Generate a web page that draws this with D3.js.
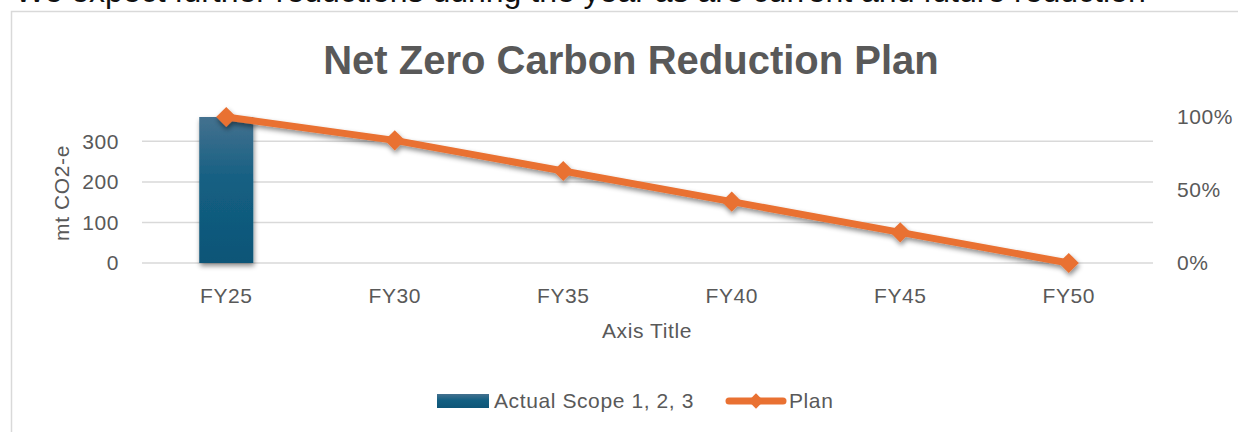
<!doctype html>
<html>
<head>
<title>Net Zero Carbon Reduction Plan</title>
<style type="text/css">
body { margin: 0; background: #fff; }
svg { display: block; font-family: "Liberation Sans", Arial, sans-serif; }
</style>
<script src="https://cdnjs.cloudflare.com/ajax/libs/d3/7.8.5/d3.min.js"></script>
</head>
<body>
<script type="text/javascript">
var width = 1238, height = 432;

// data
var years = ["FY25", "FY30", "FY35", "FY40", "FY45", "FY50"];
var actual = [360, null, null, null, null, null];   // mt CO2-e
var plan = [1.00, 0.84, 0.63, 0.42, 0.21, 0.00];     // share of baseline
var leftTicks = [0, 100, 200, 300];
var rightTicks = [0, 0.5, 1];

var orange = "#E97132";
var grey = "#595959";
var font = "Liberation Sans, Arial, sans-serif";
var fs = 21, ls = 0.6;   // label size and letter spacing

var svg = d3.select("body").append("svg")
	.attr("width", width)
	.attr("height", height);

var defs = svg.append("defs");
var grad = defs.append("linearGradient").attr("id", "barGrad")
	.attr("x1", 0).attr("y1", 0).attr("x2", 0).attr("y2", 1);
grad.append("stop").attr("offset", "0%").attr("stop-color", "#44718f");
grad.append("stop").attr("offset", "45%").attr("stop-color", "#135f82");
grad.append("stop").attr("offset", "100%").attr("stop-color", "#0e5577");

var shadow = defs.append("filter").attr("id", "shadow")
	.attr("x", "-20%").attr("y", "-20%").attr("width", "140%").attr("height", "160%");
shadow.append("feDropShadow")
	.attr("dx", 1).attr("dy", 3).attr("stdDeviation", 2.5)
	.attr("flood-color", "#000").attr("flood-opacity", 0.45);

// the cut-off paragraph line above the chart
svg.append("text")
	.attr("x", 15).attr("y", 2)
	.attr("font-size", 32)
	.attr("fill", "#111")
	.text("We expect further reductions during the year as are current and future reduction");

// chart frame (right edge runs off the page)
svg.append("path")
	.attr("d", "M1250,11.5 H11.5 V440")
	.attr("fill", "none")
	.attr("stroke", "#d9d9d9")
	.attr("stroke-width", 1.5);

svg.append("text")
	.attr("x", 631).attr("y", 74)
	.attr("text-anchor", "middle")
	.attr("font-size", 40)
	.attr("font-weight", "bold")
	.attr("fill", grey)
	.text("Net Zero Carbon Reduction Plan");

var x = d3.scaleBand().domain(years).range([142, 1153]);
var yL = d3.scaleLinear().domain([0, 360]).range([263, 117]);
var yR = d3.scaleLinear().domain([0, 1]).range([263, 117]);

// gridlines
svg.append("g").selectAll("line").data(leftTicks).enter().append("line")
	.attr("x1", 142).attr("x2", 1153)
	.attr("y1", function(d) { return yL(d); })
	.attr("y2", function(d) { return yL(d); })
	.attr("stroke", "#d9d9d9")
	.attr("stroke-width", 1.5);

// axes
var axisL = svg.append("g").attr("transform", "translate(142,0)")
	.call(d3.axisLeft(yL).tickValues(leftTicks).tickSize(0).tickPadding(23));
var axisR = svg.append("g").attr("transform", "translate(1153,0)")
	.call(d3.axisRight(yR).tickValues(rightTicks).tickSize(0).tickPadding(24).tickFormat(d3.format(".0%")));
var axisB = svg.append("g").attr("transform", "translate(0,263)")
	.call(d3.axisBottom(x).tickSize(0).tickPadding(25));
[axisL, axisR, axisB].forEach(function(a) {
	a.select(".domain").remove();
	a.selectAll("text").attr("font-size", fs).attr("fill", grey)
		.attr("letter-spacing", ls)
		.attr("font-family", font);
});

svg.append("text")
	.attr("transform", "translate(69,193) rotate(-90)")
	.attr("text-anchor", "middle")
	.attr("font-size", fs).attr("letter-spacing", ls).attr("fill", grey)
	.text("mt CO2-e");

svg.append("text")
	.attr("x", 647).attr("y", 338)
	.attr("text-anchor", "middle")
	.attr("font-size", fs).attr("letter-spacing", ls).attr("fill", grey)
	.text("Axis Title");

// bars
var bw = 54;
svg.append("g").selectAll("rect")
	.data(years.map(function(y, i) { return {year: y, v: actual[i]}; })
		.filter(function(d) { return d.v != null; }))
	.enter().append("rect")
	.attr("x", function(d) { return x(d.year) + x.bandwidth() / 2 - bw / 2; })
	.attr("width", bw)
	.attr("y", function(d) { return yL(d.v); })
	.attr("height", function(d) { return yL(0) - yL(d.v); })
	.attr("fill", "url(#barGrad)")
	.attr("filter", "url(#shadow)");

// plan line
var cx = function(d, i) { return x(years[i]) + x.bandwidth() / 2; };
var line = d3.line().x(cx).y(function(d) { return yR(d); });
var planG = svg.append("g").attr("filter", "url(#shadow)");
planG.append("path")
	.datum(plan)
	.attr("d", line)
	.attr("fill", "none")
	.attr("stroke", orange)
	.attr("stroke-width", 7)
	.attr("stroke-linejoin", "round");
var diamond = d3.symbol().type(d3.symbolDiamond2).size(260);
planG.selectAll(".mk").data(plan).enter().append("path")
	.attr("class", "mk")
	.attr("d", diamond)
	.attr("transform", function(d, i) { return "translate(" + cx(d, i) + "," + yR(d) + ")"; })
	.attr("fill", orange);

// legend
var leg = svg.append("g");
leg.append("rect")
	.attr("x", 437).attr("y", 394).attr("width", 52).attr("height", 14)
	.attr("fill", "url(#barGrad)");
leg.append("text")
	.attr("x", 494).attr("y", 408)
	.attr("font-size", fs).attr("letter-spacing", ls).attr("fill", grey)
	.text("Actual Scope 1, 2, 3");
leg.append("line")
	.attr("x1", 729).attr("x2", 783).attr("y1", 401).attr("y2", 401)
	.attr("stroke", orange).attr("stroke-width", 7).attr("stroke-linecap", "round");
leg.append("path")
	.attr("d", d3.symbol().type(d3.symbolDiamond2).size(150))
	.attr("transform", "translate(756,401)")
	.attr("fill", orange);
leg.append("text")
	.attr("x", 789).attr("y", 408)
	.attr("font-size", fs).attr("letter-spacing", ls).attr("fill", grey)
	.text("Plan");
</script>
</body>
</html>
